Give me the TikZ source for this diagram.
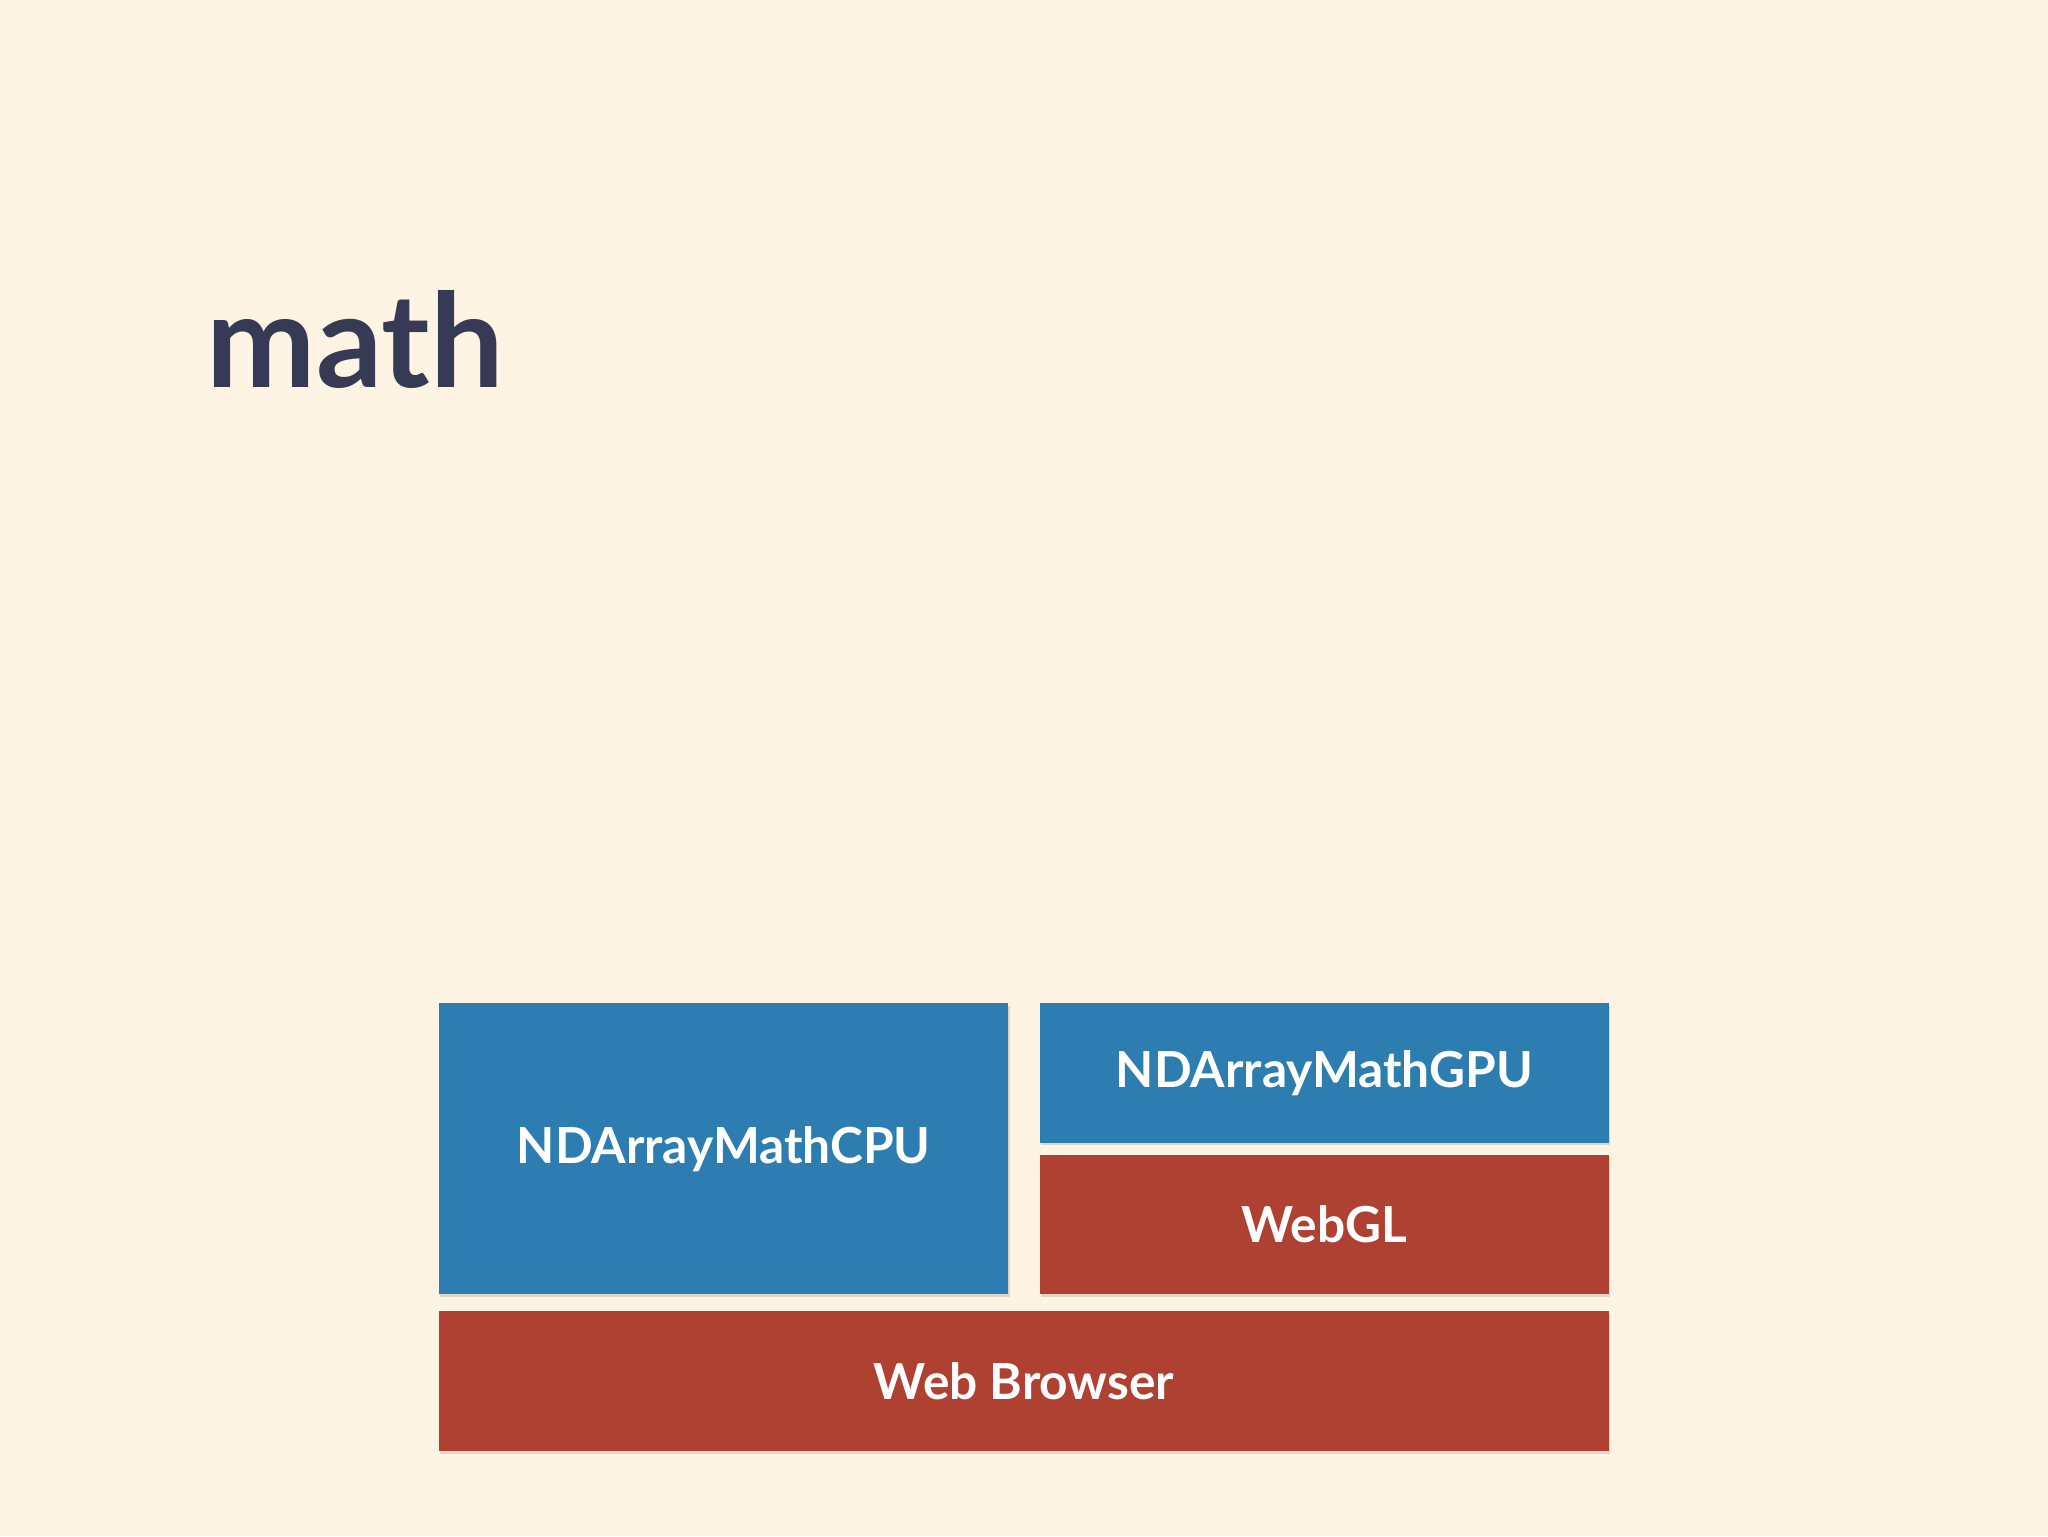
\documentclass[tikz,border=0pt]{standalone}
\usepackage{fontspec}
\setmainfont{Lato}
\definecolor{bg}{HTML}{FEF4E3}
\definecolor{bl}{HTML}{2E7DB1}
\definecolor{rd}{HTML}{AF4133}
\definecolor{tt}{HTML}{363A55}
\tikzset{blk/.style={inner sep=0pt,text=white,font=\fontsize{38}{40}\selectfont\bfseries,drop shadow/.style={}},
 sh/.style={fill=black!25,opacity=0.5}}
\begin{document}
\begin{tikzpicture}[x=1pt,y=-1pt]
\fill[bg] (0,0) rectangle (1568,1176);
\useasboundingbox (0,0) rectangle (1568,1176);
\node[anchor=base west,text=tt,font=\fontsize{100}{110}\selectfont\bfseries,inner sep=0pt] (title) at (158,297) {math};
\foreach \a/\b/\c/\d/\col/\n in {336/768/772/991/bl/cpu,796/768/1232/875/bl/gpu,796/884/1232/991/rd/gl,336/1004/1232/1111/rd/br}{
 \fill[black,opacity=0.12] (\a+1,\b+2) rectangle (\c+1,\d+2);
 \fill[\col] (\a,\b) rectangle (\c,\d);
 \coordinate (\n) at ({(\a+\c)/2},{(\b+\d)/2});
}
\node[blk] at (cpu) {NDArrayMathCPU};
\node[blk] at (gpu) {NDArrayMathGPU};
\node[blk] at (gl) {WebGL};
\node[blk] at (br) {Web Browser};
\end{tikzpicture}
\end{document}
